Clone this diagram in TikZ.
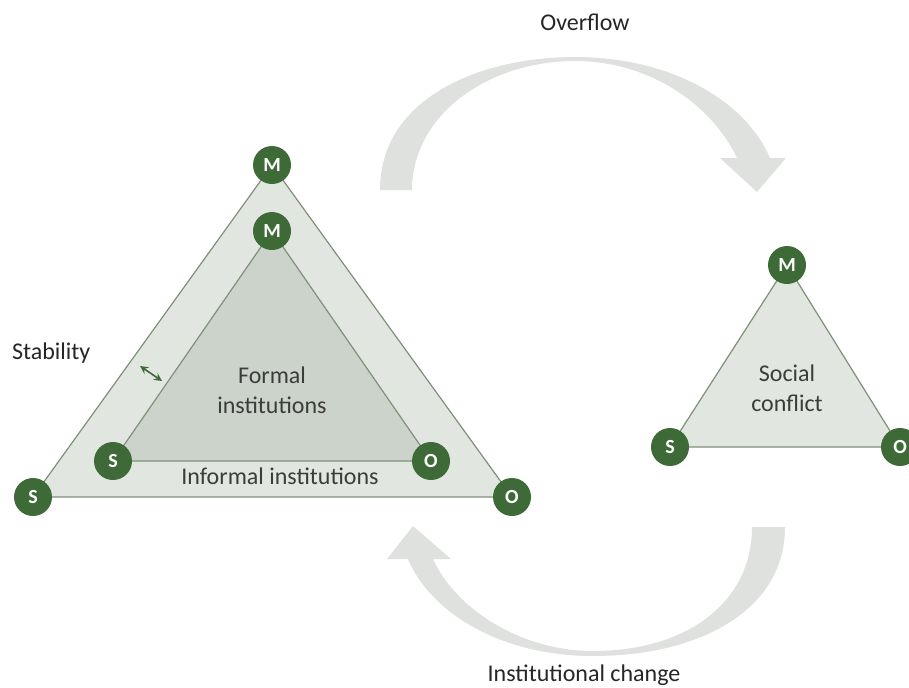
\documentclass[tikz,border=0pt]{standalone}
\usepackage{fontspec}
\setmainfont{Carlito}
\usepackage{tikz}
\definecolor{darkgreen}{HTML}{3D6A37}
\definecolor{paleleaf}{HTML}{E2E6E0}
\definecolor{sageleaf}{HTML}{CCD3CA}
\definecolor{edgegray}{HTML}{7F907A}
\definecolor{arrowgray}{HTML}{DEE1DD}
\definecolor{textgray}{HTML}{3C3C3C}
\tikzstyle{actor} = [circle, fill=darkgreen, minimum size=19pt, inner sep=0pt, text=white, font=\fontsize{10}{10}\selectfont\bfseries]
\tikzstyle{side} = [draw=edgegray, line width=0.6pt]
\tikzstyle{intext} = [font=\fontsize{12}{15}\selectfont, text=textgray, align=center]
\tikzstyle{outtext} = [font=\fontsize{12}{15}\selectfont, text=black!85]

\begin{document}
\begin{tikzpicture}[x=0.5pt, y=-0.5pt]
	\useasboundingbox (0,0) rectangle (909,687);

	\fill[arrowgray] (380,190) .. controls (380,98) and (480,57) .. (575,57)
		.. controls (670,57) and (745,100) .. (770,158) -- (786,158) -- (757,192) -- (720,158) -- (737,158)
		.. controls (712,105) and (650,61) .. (575,61)
		.. controls (488,61) and (412,115) .. (412,190) -- cycle;
	\fill[arrowgray] (785,527) .. controls (785,610) and (700,656) .. (593,656)
		.. controls (500,656) and (430,612) .. (408,559) -- (387,559) -- (413,526) -- (451,559) -- (433,559)
		.. controls (455,608) and (520,651) .. (593,651)
		.. controls (690,651) and (752,600) .. (752,527) -- cycle;

	\coordinate (OUT_M) at (272,165);
	\coordinate (OUT_S) at (33,497);
	\coordinate (OUT_O) at (512,497);
	\coordinate (IN_M) at (272,231);
	\coordinate (IN_S) at (113,461);
	\coordinate (IN_O) at (431,461);
	\coordinate (SC_M) at (787,265);
	\coordinate (SC_S) at (670,447);
	\coordinate (SC_O) at (900,447);
	\coordinate (GAP_A) at (140,366);
	\coordinate (GAP_B) at (162,381);

	\filldraw[side, fill=paleleaf] (OUT_M) -- (OUT_S) -- (OUT_O) -- cycle;
	\filldraw[side, fill=sageleaf] (IN_M) -- (IN_S) -- (IN_O) -- cycle;
	\filldraw[side, fill=paleleaf] (SC_M) -- (SC_S) -- (SC_O) -- cycle;

	\node[actor] (OUT_M_NODE) at (OUT_M) {M};
	\node[actor] (OUT_S_NODE) at (OUT_S) {S};
	\node[actor] (OUT_O_NODE) at (OUT_O) {O};
	\node[actor] (IN_M_NODE) at (IN_M) {M};
	\node[actor] (IN_S_NODE) at (IN_S) {S};
	\node[actor] (IN_O_NODE) at (IN_O) {O};
	\node[actor] (SC_M_NODE) at (SC_M) {M};
	\node[actor] (SC_S_NODE) at (SC_S) {S};
	\node[actor] (SC_O_NODE) at (SC_O) {O};

	\draw[<->, >=stealth, darkgreen, line width=0.8pt] (GAP_A) -- (GAP_B);

	\node[intext] (FORMAL) at (272,390) {Formal\\institutions};
	\node[intext] (INFORMAL) at (280,476) {Informal institutions};
	\node[intext] (CONFLICT) at (787,388) {Social\\conflict};
	\node[outtext, anchor=west] (STABILITY) at (5,353) {Stability};
	\node[outtext] (OVERFLOW) at (585,22) {Overflow};
	\node[outtext] (CHANGE) at (584,675) {Institutional change};
\end{tikzpicture}
\end{document}
